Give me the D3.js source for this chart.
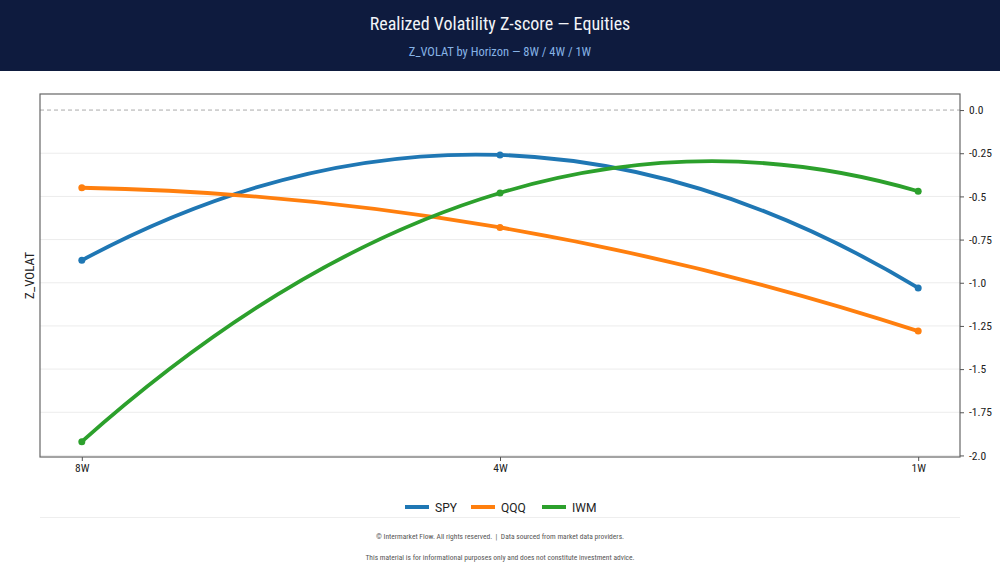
<!DOCTYPE html>
<html>
<head>
<meta charset="utf-8">
<script src="https://cdn.jsdelivr.net/npm/d3@7"></script>
<style>
  html, body { margin: 0; padding: 0; background: #fff; }
  svg { display: block; }
  .cond { font-family: "Roboto Condensed", "Liberation Sans Narrow", "DejaVu Sans Condensed", Roboto, sans-serif; }
</style>
</head>
<body>
<svg id="chart" width="1000" height="571"></svg>
<script>
// data
const horizons = ['8W', '4W', '1W'];
const seriesNames = ['SPY', 'QQQ', 'IWM'];
const spy = [-0.87, -0.26, -1.03];
const qqq = [-0.45, -0.68, -1.28];
const iwm = [-1.92, -0.48, -0.47];
const yTicks = [0, -0.25, -0.5, -0.75, -1.0, -1.25, -1.5, -1.75, -2.0];
const yTickLabels = ['0.0', '-0.25', '-0.5', '-0.75', '-1.0', '-1.25', '-1.5', '-1.75', '-2.0'];
const colors = ['#1f77b4', '#ff7f0e', '#2ca02c'];

const series = [spy, qqq, iwm].map((vals, i) => ({ name: seriesNames[i], vals, color: colors[i] }));

const W = 1000, H = 571;
const m = { left: 40, right: 960, top: 94, bottom: 457 };
const svg = d3.select('#chart');

// header band
svg.append('rect').attr('width', W).attr('height', 71).attr('fill', '#0e1b3e');
svg.append('text').attr('class', 'cond')
  .attr('x', W / 2).attr('y', 29.5).attr('text-anchor', 'middle')
  .attr('font-size', 18).attr('fill', '#f2f4f8')
  .text('Realized Volatility Z-score — Equities');
svg.append('text').attr('class', 'cond')
  .attr('x', W / 2).attr('y', 55.5).attr('text-anchor', 'middle')
  .attr('font-size', 12.5).attr('fill', '#86b3e6')
  .text('Z_VOLAT by Horizon — 8W / 4W / 1W');

const x = d3.scalePoint().domain(horizons).range([m.left, m.right]).padding(0.1);
const y = d3.scaleLinear().domain([-2.009, 0.093]).range([m.bottom, m.top]);

// grid
svg.append('g').selectAll('line')
  .data(yTicks.filter(t => t !== 0))
  .enter().append('line')
  .attr('x1', m.left).attr('x2', m.right)
  .attr('y1', d => y(d)).attr('y2', d => y(d))
  .attr('stroke', '#ececec').attr('stroke-width', 1);

// zero line
svg.append('line')
  .attr('x1', m.left).attr('x2', m.right)
  .attr('y1', y(0)).attr('y2', y(0))
  .attr('stroke', '#aaa').attr('stroke-width', 1)
  .attr('stroke-dasharray', '4,3');

// parabola through the points, drawn as quadratic beziers
function curveParabola(context) {
  let pts = [];
  return {
    areaStart() {}, areaEnd() {},
    lineStart() { pts = []; },
    point(px, py) { pts.push([+px, +py]); },
    lineEnd() {
      if (!pts.length) return;
      context.moveTo(pts[0][0], pts[0][1]);
      if (pts.length < 3) { pts.slice(1).forEach(p => context.lineTo(p[0], p[1])); return; }
      for (let i = 0; i < pts.length - 1; i++) {
        const j = Math.min(i, pts.length - 3);
        const [x0, y0] = pts[j], [x1, y1] = pts[j + 1], [x2, y2] = pts[j + 2];
        const d01 = (y1 - y0) / (x1 - x0);
        const a = ((y2 - y1) / (x2 - x1) - d01) / (x2 - x0);
        const slope = xx => d01 + a * (2 * xx - x0 - x1);
        const [xa, ya] = pts[i], [xb, yb] = pts[i + 1];
        const xm = (xa + xb) / 2;
        context.quadraticCurveTo(xm, ya + slope(xa) * (xm - xa), xb, yb);
      }
    }
  };
}

const line = d3.line()
  .x((d, i) => x(horizons[i]))
  .y(d => y(d))
  .curve(curveParabola);

const gS = svg.append('g');
series.forEach(s => {
  gS.append('path').attr('d', line(s.vals))
    .attr('fill', 'none').attr('stroke', s.color)
    .attr('stroke-width', 3.8).attr('stroke-linecap', 'round');
  gS.selectAll(null).data(s.vals).enter().append('circle')
    .attr('cx', (d, i) => x(horizons[i])).attr('cy', d => y(d))
    .attr('r', 3.5).attr('fill', s.color);
});

// frame
svg.append('rect')
  .attr('x', m.left).attr('y', m.top)
  .attr('width', m.right - m.left).attr('height', m.bottom - m.top)
  .attr('fill', 'none').attr('stroke', '#666').attr('stroke-width', 1.2);

// right y axis
const yAxis = svg.append('g').attr('class', 'cond')
  .attr('transform', `translate(${m.right},0)`)
  .call(d3.axisRight(y).tickValues(yTicks).tickSize(4).tickPadding(5)
    .tickFormat((d, i) => yTickLabels[i]));
yAxis.select('.domain').remove();
yAxis.selectAll('line').attr('stroke', '#555');
yAxis.selectAll('text').attr('font-size', 11.5).attr('fill', '#222')
  .attr('font-family', null);

// bottom x axis
const xAxis = svg.append('g').attr('class', 'cond')
  .attr('transform', `translate(0,${m.bottom})`)
  .call(d3.axisBottom(x).tickSize(4).tickPadding(3));
xAxis.select('.domain').remove();
xAxis.selectAll('line').attr('stroke', '#555');
xAxis.selectAll('text').attr('font-size', 11.5).attr('fill', '#222')
  .attr('font-family', null);

// y label
svg.append('text').attr('class', 'cond')
  .attr('transform', `translate(34,${(m.top + m.bottom) / 2}) rotate(-90)`)
  .attr('text-anchor', 'middle').attr('font-size', 13).attr('fill', '#222')
  .text('Z_VOLAT');

// legend
const legX = [405, 471, 542];
const leg = svg.append('g').selectAll('g').data(series).enter().append('g')
  .attr('transform', (d, i) => `translate(${legX[i]},507)`);
leg.append('line').attr('x1', 0).attr('x2', 24)
  .attr('stroke', d => d.color).attr('stroke-width', 4);
leg.append('text').attr('x', 30).attr('y', 4.5)
  .attr('font-family', 'Roboto, sans-serif').attr('font-size', 12).attr('fill', '#222')
  .text(d => d.name);

// separator + footer
svg.append('line').attr('x1', 40).attr('x2', 960).attr('y1', 517.5).attr('y2', 517.5)
  .attr('stroke', '#eee').attr('stroke-width', 1);
svg.append('text').attr('class', 'cond')
  .attr('x', W / 2).attr('y', 539).attr('text-anchor', 'middle')
  .attr('font-size', 7.5).attr('fill', '#555')
  .attr('xml:space', 'preserve')
  .text('© Intermarket Flow. All rights reserved.  |  Data sourced from market data providers.');
svg.append('text').attr('class', 'cond')
  .attr('x', W / 2).attr('y', 560).attr('text-anchor', 'middle')
  .attr('font-size', 7.5).attr('fill', '#555')
  .text('This material is for informational purposes only and does not constitute investment advice.');
</script>
</body>
</html>
